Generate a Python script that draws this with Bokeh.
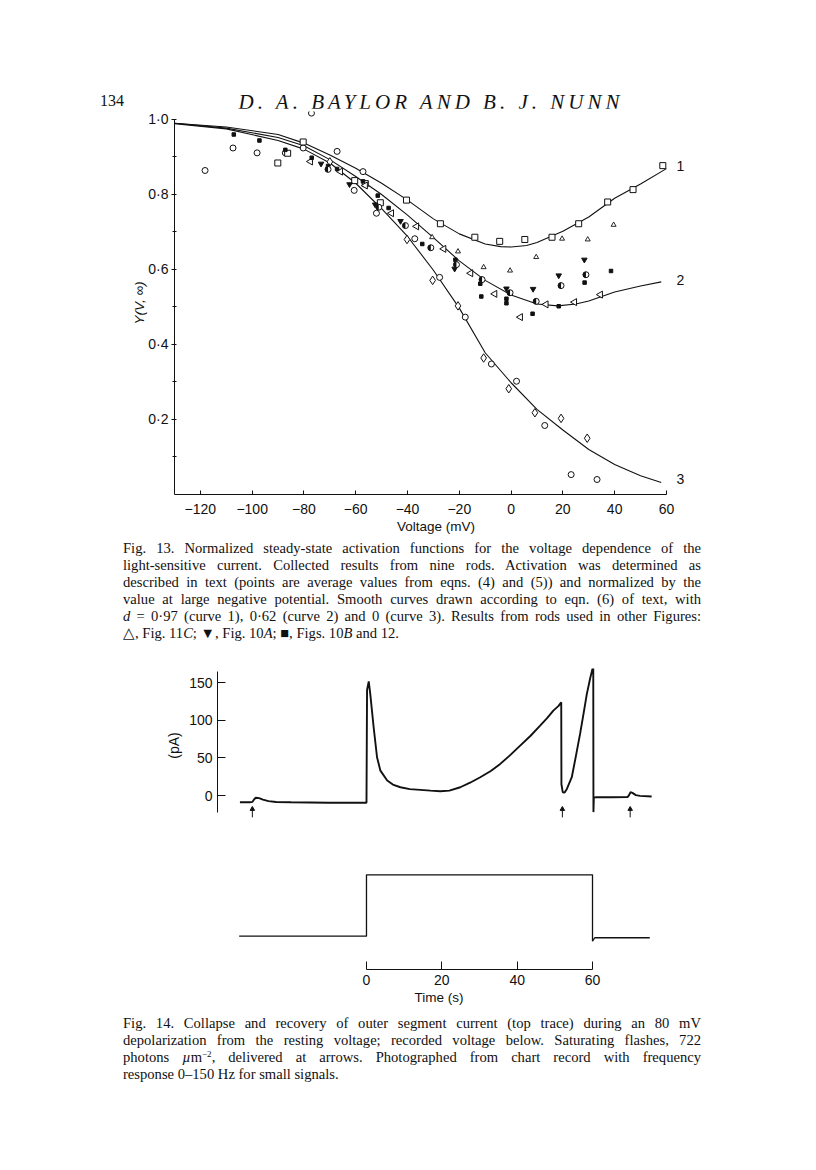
from bokeh.plotting import figure
from bokeh.models import Range1d, FixedTicker, CustomJSTickFormatter, Label, Div
from bokeh.embed import file_html
from bokeh.resources import INLINE
import math

# ---------------- Fig. 13 data ----------------
curve1_v = [-130, -110, -90, -80, -70, -60, -50, -40, -30, -20, -10, -4, 0, 6, 10, 20, 30, 40, 50, 60]
curve1_y = [0.99, 0.98, 0.96, 0.937, 0.905, 0.87, 0.83, 0.785, 0.735, 0.695, 0.668, 0.661, 0.66, 0.664,
            0.672, 0.702, 0.74, 0.79, 0.828, 0.869]
curve2_v = [-130, -110, -90, -80, -70, -60, -50, -40, -30, -20, -10, 0, 10, 18, 25, 30, 40, 50, 58]
curve2_y = [0.99, 0.977, 0.952, 0.93, 0.893, 0.848, 0.80, 0.745, 0.685, 0.623, 0.571, 0.532, 0.508,
            0.503, 0.508, 0.516, 0.54, 0.556, 0.567]
curve3_v = [-130, -110, -90, -80, -70, -60, -50, -40, -30, -20, -10, 0, 10, 20, 30, 40, 50, 58]
curve3_y = [0.989, 0.975, 0.944, 0.921, 0.884, 0.83, 0.762, 0.688, 0.598, 0.497, 0.378, 0.298, 0.227,
            0.172, 0.12, 0.08, 0.05, 0.032]

circ_v = [-118.2, -107.4, -98.1, -87.2, -77.1, -80.3, -67.2, -57.2, -60.6, -52, -37.2, -27.6, -17.7,
          -7.6, 2.1, 13, 23.2, 33.2]
circ_y = [0.864, 0.924, 0.911, 0.911, 1.017, 0.924, 0.915, 0.861, 0.811, 0.75, 0.682, 0.579, 0.473,
          0.348, 0.302, 0.184, 0.053, 0.04]
diam_v = [-70, -40.2, -30.3, -20.5, -10.6, -0.9, 9.2, 19.3, 29.4]
diam_y = [0.887, 0.68, 0.571, 0.503, 0.364, 0.282, 0.218, 0.203, 0.15]
sq_v = [-90.1, -86.3, -80.3, -60.4, -56.3, -50.5, -40.4, -27.3, -14, -4.4, 5.3, 15.8, 26.1, 37.3, 47.1, 58.6]
sq_y = [0.884, 0.910, 0.94, 0.837, 0.829, 0.778, 0.785, 0.722, 0.686, 0.675, 0.68, 0.686, 0.722, 0.78,
        0.813, 0.877]
tri_v = [-30.5, -20.5, -10.6, -0.4, 9.7, 19.7, 29.6, 39.6]
tri_y = [0.686, 0.648, 0.606, 0.597, 0.633, 0.682, 0.68, 0.719]
ltri_v = [-77.5, -65.9, -56.3, -46.2, -36.5, -26, -15.6, -6.3, 3.6, 13.5, 24.5, 34.5]
ltri_y = [0.888, 0.861, 0.824, 0.75, 0.715, 0.655, 0.59, 0.535, 0.473, 0.507, 0.513, 0.533]
dot_v = [-107.1, -97.2, -87.2, -77, -67.2, -57.2, -51.5, -47.3, -34.3, -21.5, -11.9, -11.5, -1.8, -1.8,
         8.3, 18.4, 28.4, 38.6, -70.7]
dot_y = [0.96, 0.944, 0.919, 0.898, 0.868, 0.835, 0.797, 0.764, 0.668, 0.626, 0.562, 0.528, 0.522, 0.51,
         0.482, 0.502, 0.565, 0.596, 0.876]
dtri_v = [-73.4, -62.4, -52.5, -42.7, -21.8, -1.8, 8.5, 18.4, 28.3]
dtri_y = [0.882, 0.827, 0.773, 0.729, 0.602, 0.549, 0.548, 0.584, 0.626]
half_v = [-70.7, -51.1, -40.8, -31, -21.1, -11.2, -0.4, 9.7, 19.3, 28.9]
half_y = [0.867, 0.766, 0.717, 0.658, 0.613, 0.573, 0.538, 0.515, 0.557, 0.586]

x_ticks13 = [-120, -100, -80, -60, -40, -20, 0, 20, 40, 60]
y_ticks13 = [0.2, 0.4, 0.6, 0.8, 1.0]
y_minor13 = [0.1, 0.3, 0.5, 0.7, 0.9]
curve_names = ["1", "2", "3"]
curve_label_y = [0.875, 0.571, 0.04]

# ---------------- Fig. 14 data ----------------
trace_t = [-33.6, -31, -30.3, -29.8, -29.4, -28.5, -27.5, -26, -24, -20, -10, 0, 0.15, 0.6, 1.0, 1.9, 2.8,
           3.7, 5.5, 7, 9, 11.5, 14.3, 17, 19.6, 22, 24.9, 27.5, 30.2, 33, 35.5, 38, 40.8, 43.5, 46.1, 48,
           49.6, 51, 51.7, 51.75, 52.1, 52.6, 53.2, 54.5, 55.5, 56.7, 57.6, 58.5, 59.4, 60.2, 60.25, 60.35,
           61, 65, 69.3, 69.7, 70.1, 70.6, 71.5, 72.6, 75.7]
trace_pA = [-9, -9, -8.5, -5, -3, -3.5, -5.5, -7.5, -8.5, -9, -9.5, -9.5, 140, 151.6, 135, 90.6, 50.8, 33,
            20, 14.5, 11, 8.5, 7.5, 6.5, 5.7, 6.5, 11, 17, 24.3, 32.5, 42, 53, 66.3, 79, 92.8, 103, 112.7,
            119, 123.8, 15, 4.4, 4, 8.8, 24.3, 50, 81.8, 108, 134.9, 156, 172.4, -22, -3, -2.2, -2.2, -2,
            0.5, 4.4, 3.5, 0.5, -0.5, -1.3]
volt_t = [-33.8, 0, 0, 60.0, 60.0, 60.6, 75.2]
volt_mV = [0, 0, 80, 80, -6.5, -2, -2]
flash_t = [-30.3, 52.0, 70.0]
pA_ticks = [0, 50, 100, 150]
time_ticks = [0, 20, 40, 60]

SANS = "Liberation Sans"
INK = "#111111"


def style_axis(ax, size="14px"):
    ax.axis_line_color = INK
    ax.major_tick_line_color = INK
    ax.minor_tick_line_color = INK
    ax.major_label_text_font = SANS
    ax.major_label_text_font_size = size
    ax.major_label_text_color = INK
    ax.axis_label_text_font = SANS
    ax.axis_label_text_font_size = "13.5px"
    ax.axis_label_text_font_style = "normal"
    ax.axis_label_text_color = INK


# ---------------- header ----------------
header = Div(
    text=(
        "<div style=\"position:relative;width:800px;height:108px;font-family:'Liberation Serif';color:#111;\">"
        "<span style=\"position:absolute;left:100px;top:90px;font-size:16px;\">134</span>"
        "<span style=\"position:absolute;left:131px;width:600px;text-align:center;top:87px;font-size:21px;"
        "font-style:italic;letter-spacing:4px;white-space:nowrap;\">D. A. BAYLOR AND B. J. NUNN</span>"
        "</div>"
    ),
    width=816, height=108, margin=0,
)

# ---------------- Fig. 13 ----------------
p1 = figure(width=800, height=432, x_range=Range1d(-130, 72), y_range=Range1d(0, 1.0213),
            min_border_left=174, min_border_right=103, min_border_top=3, min_border_bottom=46,
            toolbar_location=None, output_backend="svg", outline_line_color=None, margin=0)
p1.xgrid.visible = False
p1.ygrid.visible = False
for cv, cy in ((curve1_v, curve1_y), (curve2_v, curve2_y), (curve3_v, curve3_y)):
    p1.line(cv, cy, line_color=INK, line_width=1.1)

p1.scatter(circ_v, circ_y, marker="circle", size=6, fill_color="white", line_color=INK, line_width=1)
p1.scatter(diam_v, diam_y, marker="diamond", size=8.5, fill_color="white", line_color=INK, line_width=1)
p1.scatter(sq_v, sq_y, marker="square", size=6, fill_color="white", line_color=INK, line_width=1)
p1.scatter(tri_v, tri_y, marker="triangle", size=5, fill_color="white", line_color=INK, line_width=0.9)
p1.scatter(ltri_v, ltri_y, marker="triangle", angle=math.pi / 2, size=7, fill_color="white",
           line_color=INK, line_width=1)
p1.scatter(dot_v, dot_y, marker="square", size=3.5, fill_color=INK, line_color=INK)
p1.scatter(dtri_v, dtri_y, marker="inverted_triangle", size=5.5, fill_color=INK, line_color=INK)
p1.scatter(half_v, half_y, marker="circle", size=6, fill_color="white", line_color=INK, line_width=1)
p1.wedge(half_v, half_y, radius=3, radius_units="screen", start_angle=math.pi / 2,
         end_angle=3 * math.pi / 2, fill_color=INK, line_color=None)

for name, ly in zip(curve_names, curve_label_y):
    p1.add_layout(Label(x=65.4, y=ly, text=name, text_font=SANS, text_font_size="14px",
                        text_color=INK, text_align="center", text_baseline="middle"))

style_axis(p1.xaxis[0])
style_axis(p1.yaxis[0])
p1.xaxis.ticker = FixedTicker(ticks=x_ticks13)
p1.xaxis.formatter = CustomJSTickFormatter(
    code="return tick < 0 ? '\u2212' + Math.abs(tick) : String(tick);")
p1.xaxis.bounds = (-130, 60)
p1.xaxis.major_tick_in = 4
p1.xaxis.major_tick_out = 0
p1.xaxis.minor_tick_line_color = None
p1.xaxis.major_label_standoff = 9
p1.xaxis.axis_label = "Voltage (mV)"
p1.xaxis.axis_label_standoff = 2
p1.yaxis.ticker = FixedTicker(ticks=y_ticks13, minor_ticks=y_minor13)
p1.yaxis.formatter = CustomJSTickFormatter(code="return tick.toFixed(1).replace('.', '\u00b7');")
p1.yaxis.bounds = (0, 1.0)
p1.yaxis.major_tick_in = 2
p1.yaxis.major_tick_out = 3
p1.yaxis.minor_tick_in = 2
p1.yaxis.minor_tick_out = 2
p1.yaxis.major_label_standoff = 3
p1.yaxis.axis_label = "Y(V, \u221e)"
p1.yaxis.axis_label_text_font_style = "italic"
p1.yaxis.axis_label_standoff = -2


# ---------------- captions ----------------
def caption(lines, height, pad_top):
    rows = []
    for i, ln in enumerate(lines):
        last = i == len(lines) - 1
        align = "left" if last else "justify"
        rows.append(f"<div style=\"text-align:{align};text-align-last:{align};white-space:nowrap;"
                    f"height:17px;\">{ln}</div>")
    html = ("<div style=\"font-family:'Liberation Serif';font-size:14.6px;line-height:17px;color:#111;"
            f"margin-left:123px;width:578px;padding-top:{pad_top}px;\">" + "".join(rows) + "</div>")
    return Div(text=html, width=816, height=height, margin=0)


cap13 = caption([
    "Fig. 13. Normalized steady-state activation functions for the voltage dependence of the",
    "light-sensitive current. Collected results from nine rods. Activation was determined as",
    "described in text (points are average values from eqns. (4) and (5)) and normalized by the",
    "value at large negative potential. Smooth curves drawn according to eqn. (6) of text, with",
    "<i>d</i> = 0\u00b797 (curve 1), 0\u00b762 (curve 2) and 0 (curve 3). Results from rods used in other Figures:",
    "\u25b3, Fig. 11<i>C</i>; \u25bc, Fig. 10<i>A</i>; \u25a0, Figs. 10<i>B</i> and 12.",
], 110, 0)

cap14 = caption([
    "Fig. 14. Collapse and recovery of outer segment current (top trace) during an 80 mV",
    "depolarization from the resting voltage; recorded voltage below. Saturating flashes, 722",
    "photons <i>\u00b5</i>m<span style=\"font-size:9px;position:relative;top:-5px;\">\u22122</span>, "
    "delivered at arrows. Photographed from chart record with frequency",
    "response 0\u2013150 Hz for small signals.",
], 90, 0)

# ---------------- Fig. 14 ----------------
t_range = Range1d(-39.55, 78.05)
p2 = figure(width=800, height=172, x_range=t_range, y_range=Range1d(-35.8, 168.6),
            min_border_left=217, min_border_right=140, min_border_top=18, min_border_bottom=0,
            x_axis_location=None, toolbar_location=None, output_backend="svg",
            outline_line_color=None, margin=0)
p2.xgrid.visible = False
p2.ygrid.visible = False
p2.line(trace_t, trace_pA, line_color=INK, line_width=1.9)
p2.segment(x0=flash_t, y0=[-29] * len(flash_t), x1=flash_t, y1=[-19] * len(flash_t),
           line_color=INK, line_width=1)
p2.scatter(flash_t, [-18] * len(flash_t), marker="triangle", size=4.5, fill_color=INK, line_color=INK)
style_axis(p2.yaxis[0])
p2.yaxis.ticker = FixedTicker(ticks=pA_ticks)
p2.yaxis.bounds = (-22, 165)
p2.yaxis.major_tick_in = 8
p2.yaxis.major_tick_out = 0
p2.yaxis.minor_tick_line_color = None
p2.yaxis.major_label_standoff = 5
p2.yaxis.axis_label = "(pA)"
p2.yaxis.axis_label_text_font_size = "14px"
p2.yaxis.axis_label_standoff = 4

p3 = figure(width=800, height=193, x_range=t_range, y_range=Range1d(-43.4, 148.2),
            min_border_left=217, min_border_right=140, min_border_top=0, min_border_bottom=46,
            y_axis_location=None, toolbar_location=None, output_backend="svg",
            outline_line_color=None, margin=0)
p3.xgrid.visible = False
p3.ygrid.visible = False
p3.line(volt_t, volt_mV, line_color=INK, line_width=1.3)
style_axis(p3.xaxis[0])
p3.xaxis.ticker = FixedTicker(ticks=time_ticks)
p3.xaxis.bounds = (0, 60)
p3.xaxis.major_tick_in = 8
p3.xaxis.major_tick_out = 0
p3.xaxis.minor_tick_line_color = None
p3.xaxis.major_label_standoff = 5
p3.xaxis.axis_label = "Time (s)"
p3.xaxis.axis_label_standoff = 2

open("out.html", "w").write(file_html([header, p1, cap13, p2, p3, cap14], INLINE))
